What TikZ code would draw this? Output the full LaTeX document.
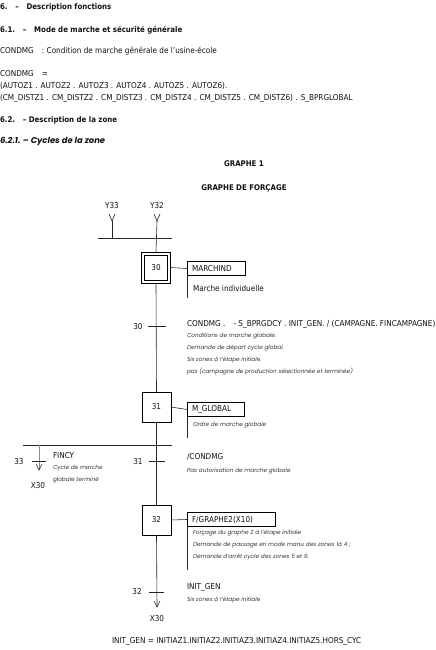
\documentclass[tikz,border=0pt]{standalone}
\usepackage{fontspec}
\setmainfont{DejaVu Sans Condensed}
\newfontfamily\geo{Poppins}
\definecolor{txt}{HTML}{111111}
\definecolor{gtxt}{HTML}{383838}
\tikzset{
  every node/.style={inner sep=0pt,outer sep=0pt,text=txt},
  fnt/.style={font=\fontsize{8.1}{9}\selectfont},
  lbl/.style={anchor=west,fnt},
  hd/.style={anchor=west,font=\fontsize{7.8}{9}\selectfont\bfseries},
  cmt/.style={anchor=north west,align=left,text=gtxt,font=\geo\itshape\fontsize{5.75}{12}\selectfont},
  stepbox/.style={draw,line width=0.6pt,minimum width=29pt,minimum height=30pt,fnt},
  actbox/.style={draw,line width=0.6pt,anchor=west,minimum height=14pt,text width=#1,inner xsep=5pt,align=left,fnt},
  ln/.style={line width=0.6pt,draw=black!85},
}
\begin{document}
\begin{tikzpicture}[x=1pt,y=-1pt]
\useasboundingbox (0,0) rectangle (436,650);
% header texts
\node[hd] (h1) at (0,7) {6.\quad –\quad Description fonctions};
\node[hd] (h2) at (0,30) {6.1.\quad –\quad Mode de marche et sécurité générale};
\node[lbl] (t1) at (0,51) {CONDMG\quad: Condition de marche générale de l’usine-école};
\node[lbl] (t2) at (0,74) {CONDMG\quad =};
\node[lbl] (t3) at (0,86) {(AUTOZ1 . AUTOZ2 . AUTOZ3 . AUTOZ4 . AUTOZ5 . AUTOZ6).};
\node[lbl] (t4) at (0,98) {(CM\_DISTZ1 . CM\_DISTZ2 . CM\_DISTZ3 . CM\_DISTZ4 . CM\_DISTZ5 . CM\_DISTZ6) . S\_BPRGLOBAL};
\node[hd] (h3) at (0,120) {6.2.\quad – Description de la zone};
\node[anchor=west,font=\geo\bfseries\itshape\fontsize{8.4}{9}\selectfont] (h4) at (0,141) {6.2.1. – Cycles de la zone};
\node[font=\fontsize{7.8}{9}\selectfont\bfseries] (g1) at (244,164) {GRAPHE 1};
\node[font=\fontsize{7.8}{9}\selectfont\bfseries] (g2) at (244,188) {GRAPHE DE FORÇAGE};
% top inputs
\node[fnt] (y33) at (112,206) {Y33};
\node[fnt] (y32) at (157,206) {Y32};
\coordinate (v33) at (112,221);
\coordinate (v32) at (157,221);
\coordinate (b33) at (112,238);
\coordinate (barL) at (98,238);
\coordinate (barR) at (172,238);
\draw[ln] ([xshift=-3pt,yshift=7pt]v33) -- (v33) -- ([xshift=3pt,yshift=7pt]v33);
\draw[ln] ([xshift=-3pt,yshift=7pt]v32) -- (v32) -- ([xshift=3pt,yshift=7pt]v32);
\draw[ln] (v33) -- (b33);
\draw[ln] (barL) -- (barR);
% step 30
\node[stepbox,minimum height=31pt] (s30) at (156,267.5) {30};
\draw[line width=0.6pt] ([shift={(3pt,3pt)}]s30.south west) rectangle ([shift={(-3pt,-3pt)}]s30.north east);
\draw[ln] (v32) -- (s30.north);
\node[actbox=48pt] (a30) at (187,268.5) {MARCHIND};
\draw[ln] (s30.east) -- (a30.west);
\coordinate (a30e) at (187,298);
\draw[ln] (a30.south west) -- (a30e);
\node[lbl] (c30) at (193,288) {Marche individuelle};
% transition 30
\coordinate (t30) at (157,326);
\draw[ln] ([xshift=-9pt]t30) -- ([xshift=9pt]t30);
\node[fnt] (n30) at (138,327) {30};
\node[lbl] (r30) at (187,324) {CONDMG .\quad- S\_BPRGDCY . INIT\_GEN. / (CAMPAGNE. FINCAMPAGNE)};
\node[cmt] (k30) at (187,333) {Conditions de marche globale.\\Demande de départ cycle global.\\Six zones à l’étape initiale.\\pas (campagne de production sélectionnée et terminée)};
% step 31
\node[stepbox] (s31) at (156.5,407) {31};
\draw[ln] (s30.south) -- (s31.north);
\node[actbox=47pt] (a31) at (187,409.5) {M\_GLOBAL};
\draw[ln] (s31.east) -- (a31.west);
\coordinate (a31e) at (187,438);
\draw[ln] (a31.south west) -- (a31e);
\node[cmt] (k31) at (193,422) {Ordre de marche globale};
% divergence
\coordinate (dL) at (23,445);
\coordinate (dR) at (172,445);
\draw[ln] (dL) -- (dR);
\coordinate (d33) at (39,445);
\coordinate (e33) at (39,470);
\draw[ln,draw=black!45] (d33) -- (e33);
\draw[ln] ([xshift=-3pt,yshift=6pt]e33) -- (e33) -- ([xshift=3pt,yshift=6pt]e33);
\coordinate (t33) at (39,461);
\draw[ln] ([xshift=-7pt]t33) -- ([xshift=7pt]t33);
\node[fnt] (n33) at (19,462) {33};
\node[fnt] (x33) at (38,486) {X30};
\node[lbl] (r33) at (53,456) {FINCY};
\node[cmt] (k33) at (53,465) {Cycle de marche\\globale terminé};
% transition 31
\coordinate (t31) at (157,461);
\draw[ln] ([xshift=-8pt]t31) -- ([xshift=8pt]t31);
\node[fnt] (n31) at (138,462) {31};
\node[lbl] (r31) at (187,457) {/CONDMG};
\node[cmt] (k31b) at (187,468) {Pas autorisation de marche globale};
% step 32
\node[stepbox] (s32) at (156.5,520) {32};
\draw[ln] (s31.south) -- (s32.north);
\node[actbox=78pt] (a32) at (187,519.5) {F/GRAPHE2(X10)};
\draw[ln] (s32.east) -- (a32.west);
\coordinate (a32e) at (187,570);
\draw[ln] (a32.south west) -- (a32e);
\node[cmt] (k32) at (193,530) {Forçage du graphe 2 à l’étape initiale\\Demande de passage en mode manu des zones 1à 4 ;\\Demande d’arrêt cycle des zones 5 et 6.};
% transition 32
\coordinate (t32) at (157,592);
\coordinate (e32) at (157,607);
\draw[ln] (s32.south) -- (e32);
\draw[ln] ([xshift=-3pt,yshift=6pt]e32) -- (e32) -- ([xshift=3pt,yshift=6pt]e32);
\draw[ln] ([xshift=-8pt]t32) -- ([xshift=7pt]t32);
\node[fnt] (n32) at (137,592) {32};
\node[fnt] (x32) at (157,619) {X30};
\node[lbl] (r32) at (187,587) {INIT\_GEN};
\node[cmt] (k32b) at (187,597) {Six zones à l’étape initiale};
% bottom
\node[lbl] (bt) at (112,641) {INIT\_GEN = INITIAZ1.INITIAZ2.INITIAZ3.INITIAZ4.INITIAZ5.HORS\_CYC};
\end{tikzpicture}
\end{document}
